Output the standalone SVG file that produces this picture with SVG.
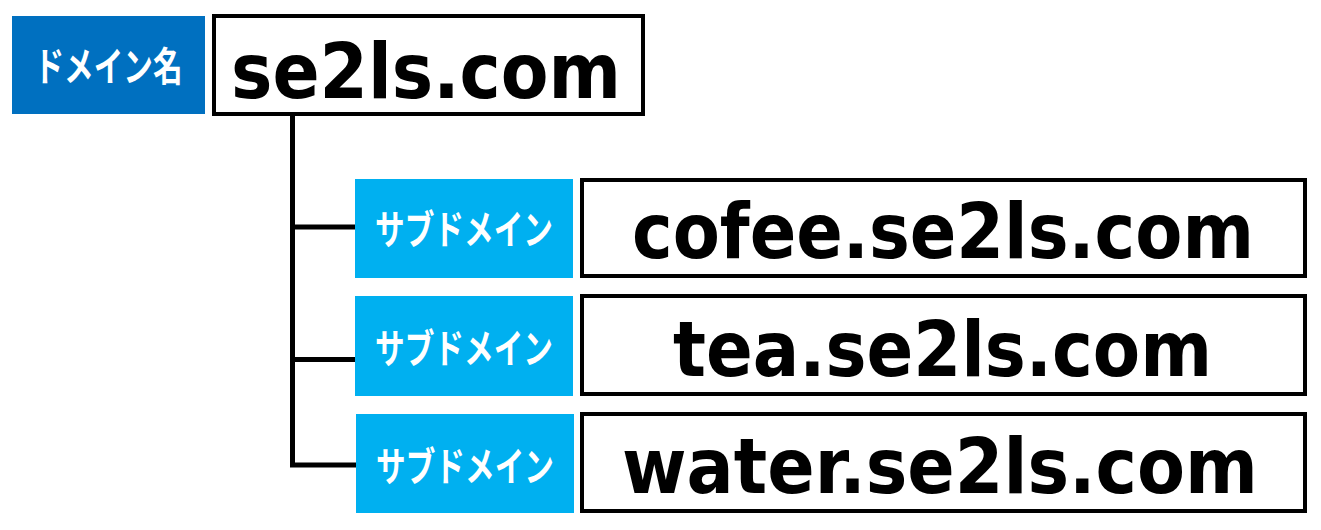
<svg xmlns="http://www.w3.org/2000/svg" width="1321" height="530" viewBox="0 0 1321 530">
<style>
.dom{fill:#0070C0}
.sub{fill:#00B0F0}
.box{fill:#FFFFFF;stroke:#000000;stroke-width:4}
.lbl{font-family:"Noto Sans CJK JP","Noto Sans",sans-serif;font-weight:bold;font-size:40px;fill:#FFFFFF;text-anchor:middle}
.url{font-family:"DejaVu Sans","Noto Sans",sans-serif;font-weight:bold;font-size:76px;fill:#000000;text-anchor:middle}
.conn{stroke:#000000;stroke-width:5;fill:none}
</style>
<rect width="1321" height="530" fill="#FFFFFF"/>
<g id="connectors">
<path class="conn" d="M292.5,116 V467"/>
<path class="conn" d="M290,227 H356"/>
<path class="conn" d="M290,359.5 H356"/>
<path class="conn" d="M290,465 H357"/>
</g>
<g id="domain">
<rect class="dom" x="12" y="16" width="193" height="98"/>
<text class="lbl" x="108.5" y="81" textLength="148" lengthAdjust="spacingAndGlyphs">ドメイン名</text>
<rect class="box" x="214" y="16" width="429" height="98"/>
<text class="url" x="426" y="98" textLength="390" lengthAdjust="spacingAndGlyphs">se2ls.com</text>
</g>
<g id="sub1">
<rect class="sub" x="355" y="179" width="218" height="99"/>
<text class="lbl" x="464" y="244" textLength="178" lengthAdjust="spacingAndGlyphs">サブドメイン</text>
<rect class="box" x="582" y="180" width="723" height="96"/>
<text class="url" x="943" y="258" textLength="622" lengthAdjust="spacingAndGlyphs">cofee.se2ls.com</text>
</g>
<g id="sub2">
<rect class="sub" x="355" y="296" width="218" height="100"/>
<text class="lbl" x="464" y="363" textLength="178" lengthAdjust="spacingAndGlyphs">サブドメイン</text>
<rect class="box" x="582" y="296" width="723" height="98"/>
<text class="url" x="942.5" y="376" textLength="539" lengthAdjust="spacingAndGlyphs">tea.se2ls.com</text>
</g>
<g id="sub3">
<rect class="sub" x="356" y="414" width="218" height="99"/>
<text class="lbl" x="465" y="481" textLength="178" lengthAdjust="spacingAndGlyphs">サブドメイン</text>
<rect class="box" x="582" y="414" width="723" height="97"/>
<text class="url" x="940" y="493" textLength="636" lengthAdjust="spacingAndGlyphs">water.se2ls.com</text>
</g>
</svg>
